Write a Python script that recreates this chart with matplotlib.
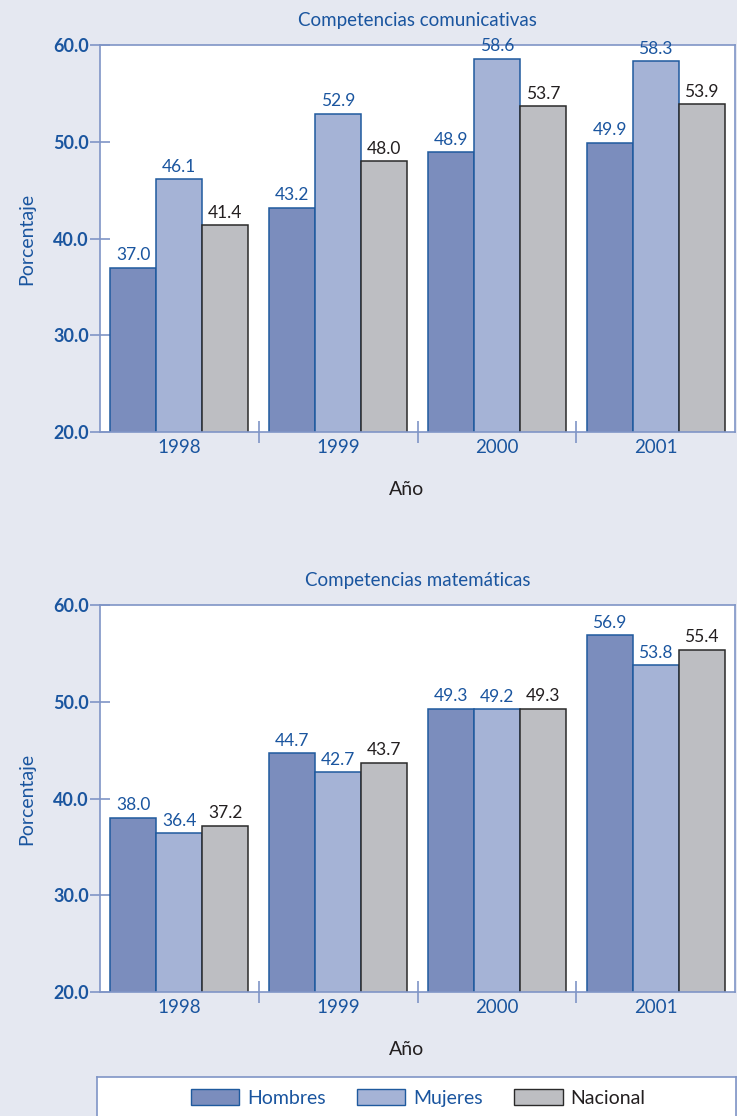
import numpy as np
import matplotlib
matplotlib.use("Agg")
import matplotlib.pyplot as plt
from matplotlib.patches import Patch

plt.rcParams["font.family"] = ["Lato", "DejaVu Sans"]

years = ["1998", "1999", "2000", "2001"]
series = ["Hombres", "Mujeres", "Nacional"]

com_hombres = [37.0, 43.2, 48.9, 49.9]
com_mujeres = [46.1, 52.9, 58.6, 58.3]
com_nacional = [41.4, 48.0, 53.7, 53.9]

mat_hombres = [38.0, 44.7, 49.3, 56.9]
mat_mujeres = [36.4, 42.7, 49.2, 53.8]
mat_nacional = [37.2, 43.7, 49.3, 55.4]

BG = "#e5e8f1"
BLUE_TXT = "#1a559f"
DARK_TXT = "#231f20"
SPINE = "#7f95c6"
fills = ["#7b8dbd", "#a5b3d6", "#bdbec2"]
edges = ["#1f5a9e", "#1f5a9e", "#2a2a2a"]
label_colors = [BLUE_TXT, BLUE_TXT, DARK_TXT]

W, H = 737, 1116
fig = plt.figure(figsize=(W / 100, H / 100), dpi=100, facecolor=BG)


def px_axes(left, top, right, bottom):
    return fig.add_axes([left / W, 1 - bottom / H, (right - left) / W, (bottom - top) / H])


def draw_panel(ax, title, data):
    x = np.arange(len(years))
    width = 0.29
    for i, vals in enumerate(data):
        pos = x + (i - 1) * width
        ax.bar(pos, vals, width, color=fills[i], edgecolor=edges[i], linewidth=1.1, zorder=2)
        for p, v in zip(pos, vals):
            ax.text(p, v + 0.45, f"{v:.1f}", ha="center", va="bottom",
                    fontsize=12.5, color=label_colors[i])
    ax.set_xlim(-0.5, 3.5)
    ax.set_ylim(20, 60)
    ax.set_yticks([20, 30, 40, 50, 60])
    ax.set_yticklabels(["20.0", "30.0", "40.0", "50.0", "60.0"], fontsize=13,
                       color=BLUE_TXT, fontweight="bold")
    ax.set_xticks(x)
    ax.set_xticklabels(years, fontsize=13.5, color=BLUE_TXT)
    ax.tick_params(axis="x", which="major", length=0, pad=5)
    ax.set_xticks([0.5, 1.5, 2.5], minor=True)
    ax.tick_params(axis="x", which="minor", length=16, direction="inout", color=SPINE, width=1.2)
    ax.tick_params(axis="y", length=14, direction="inout", color=SPINE, width=1.2, pad=1)
    for s in ax.spines.values():
        s.set_color(SPINE)
        s.set_linewidth(1.2)
    ax.set_title(title, fontsize=13.5, color=BLUE_TXT, pad=14)
    ax.set_ylabel("Porcentaje", fontsize=14, color=BLUE_TXT, labelpad=13)
    ax.set_xlabel("Año", fontsize=14, color=DARK_TXT)
    ax.xaxis.set_label_coords(0.482, -0.127)
    ax.set_facecolor("white")


ax1 = px_axes(100, 45, 735, 432)
draw_panel(ax1, "Competencias comunicativas", [com_hombres, com_mujeres, com_nacional])

ax2 = px_axes(100, 605, 735, 992)
draw_panel(ax2, "Competencias matemáticas", [mat_hombres, mat_mujeres, mat_nacional])

# legend box at the bottom
axl = px_axes(97, 1077, 736, 1130)
axl.set_xticks([])
axl.set_yticks([])
for s in axl.spines.values():
    s.set_color(SPINE)
    s.set_linewidth(1.2)
handles = [Patch(facecolor=fills[i], edgecolor=edges[i], label=series[i]) for i in range(3)]
leg = fig.legend(handles=handles, ncol=3, loc="center", bbox_to_anchor=(418 / W, 1 - 1098 / H),
                 frameon=False, fontsize=14, handlelength=2.5, handleheight=0.9,
                 columnspacing=1.6, handletextpad=0.4)
for t, c in zip(leg.get_texts(), label_colors):
    t.set_color(c)

fig.savefig("out.png", dpi=100, facecolor=BG)
